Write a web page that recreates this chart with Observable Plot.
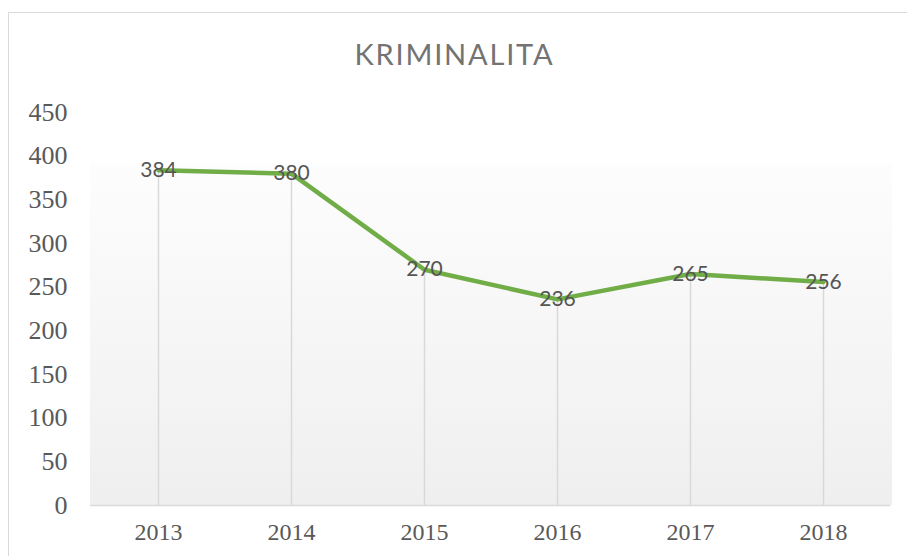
<!DOCTYPE html>
<html>
<head>
<meta charset="utf-8">
<script src="https://cdn.jsdelivr.net/npm/d3@7"></script>
<script src="https://cdn.jsdelivr.net/npm/@observablehq/plot@0.6"></script>
<style>
  html, body { margin: 0; padding: 0; background: #fff; }
  #wrap { position: relative; width: 907px; height: 556px; overflow: hidden; }
  #frame { position: absolute; left: 8px; top: 12px; width: 1000px; height: 700px;
           border-left: 1px solid #d9d9d9; border-top: 1px solid #d9d9d9; }
  #title { position: absolute; left: 1px; width: 907px; top: 37px; text-align: center;
           font-family: Lato, "Open Sans", sans-serif; font-weight: 400; font-size: 29px;
           color: #737373; letter-spacing: 1.8px; line-height: 1.2; }
  #chart { position: absolute; left: 0; top: 0; }
</style>
</head>
<body>
<div id="wrap">
  <div id="frame"></div>
  <div id="title">KRIMINALITA</div>
  <div id="chart"></div>
</div>
<script>
const years = ["2013", "2014", "2015", "2016", "2017", "2018"];
const values = [384, 380, 270, 236, 265, 256];
const yTicks = [0, 50, 100, 150, 200, 250, 300, 350, 400, 450];

const data = years.map((y, i) => ({year: y, value: values[i]}));

const background = (index, scales, vals, dims) => {
  const svg = d3.create("svg:g");
  const defs = svg.append("defs");
  const g = defs.append("linearGradient").attr("id", "bggrad")
    .attr("x1", 0).attr("y1", 0).attr("x2", 0).attr("y2", 1);
  g.append("stop").attr("offset", "0%").attr("stop-color", "#fdfdfd");
  g.append("stop").attr("offset", "100%").attr("stop-color", "#efefef");
  const h = dims.height - dims.marginTop - dims.marginBottom;
  const top = dims.marginTop + h * 0.13;
  svg.append("rect")
    .attr("x", dims.marginLeft)
    .attr("y", top)
    .attr("width", dims.width - dims.marginLeft - dims.marginRight + 2)
    .attr("height", dims.height - dims.marginBottom - top)
    .attr("fill", "url(#bggrad)");
  return svg.node();
};

const chart = Plot.plot({
  width: 907,
  height: 556,
  marginTop: 112,
  marginBottom: 51,
  marginLeft: 90,
  marginRight: 17,
  style: {background: "transparent", overflow: "visible"},
  x: {type: "point", domain: years, padding: 0.5, label: null},
  y: {domain: [0, 450], label: null},
  marks: [
    background,
    Plot.ruleX(data, {x: "year", y1: 0, y2: "value", stroke: "#d9d9d9", strokeWidth: 1.5}),
    Plot.ruleY([0], {stroke: "#d9d9d9", strokeWidth: 1.5}),
    Plot.axisY({ticks: yTicks, tickSize: 0, tickPadding: 23, fontSize: 26,
      fontFamily: "Liberation Serif, serif", fill: "#595959", label: null}),
    Plot.axisX({tickSize: 0, tickPadding: 17, fontSize: 24,
      fontFamily: "Liberation Serif, serif", fill: "#595959", label: null}),
    Plot.line(data, {x: "year", y: "value", stroke: "#70ad47", strokeWidth: 4.5,
      strokeLinejoin: "round", strokeLinecap: "round"}),
    Plot.text(data, {x: "year", y: "value", text: d => String(d.value),
      fontSize: 21, fontFamily: "Lato, Open Sans, sans-serif", fill: "#555555"})
  ]
});
document.getElementById("chart").appendChild(chart);
</script>
</body>
</html>
